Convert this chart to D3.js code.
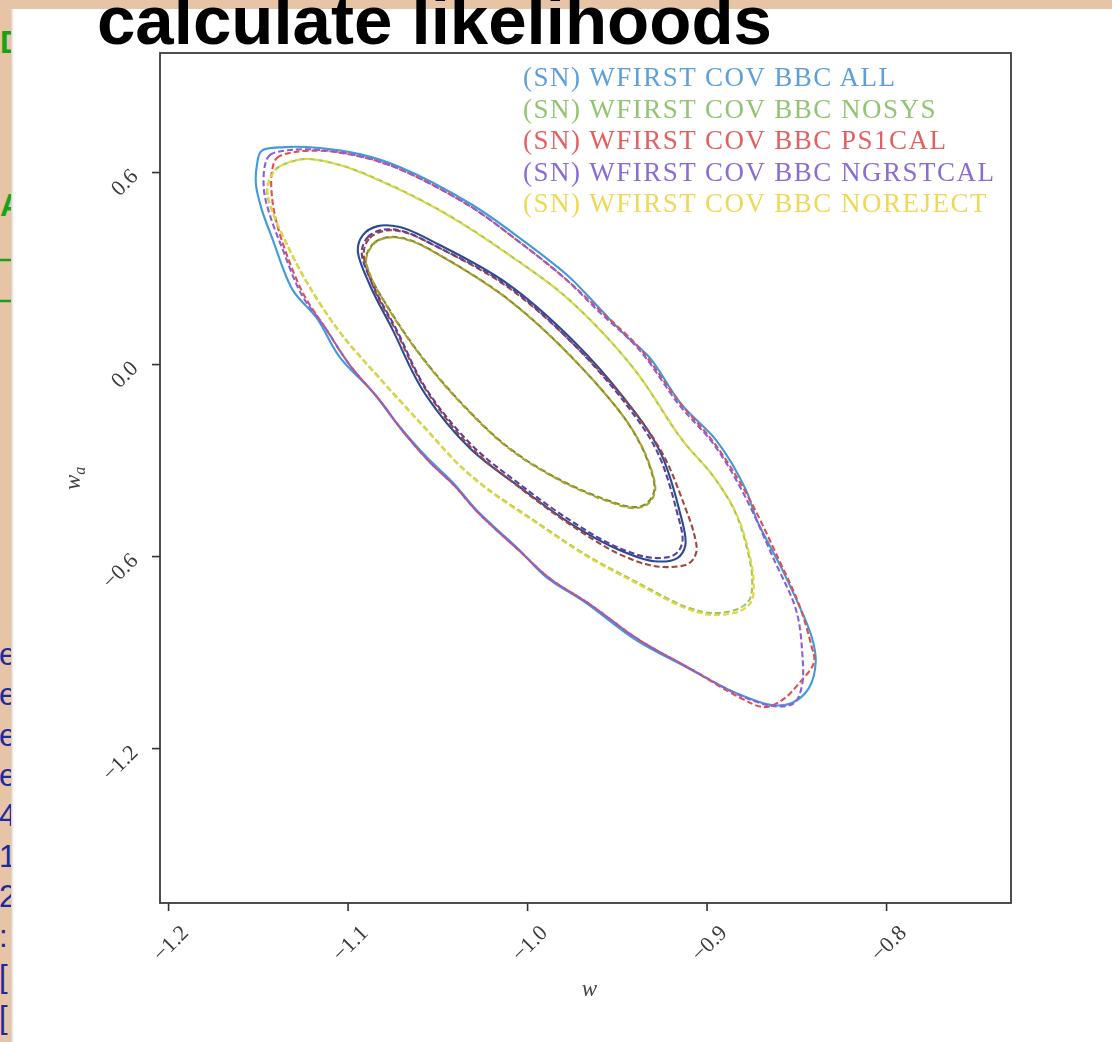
<!DOCTYPE html>
<html>
<head>
<meta charset="utf-8">
<script src="https://cdn.jsdelivr.net/npm/d3@7"></script>
<style>
  html, body { margin: 0; padding: 0; background: #fff; overflow: hidden; }
  svg { display: block; }
</style>
</head>
<body>
<svg id="chart" width="1112" height="1042"></svg>
<script>
// axis ticks and ranges (w on x, w_a on y)
const xTicks = [-1.2, -1.1, -1.0, -0.9, -0.8];
const yTicks = [0.6, 0.0, -0.6, -1.2];
const xDomain = [-1.2045, -0.7304];
const yDomain = [-1.684, 0.972];

const seriesNames = [
  "(SN) WFIRST COV BBC ALL",
  "(SN) WFIRST COV BBC NOSYS",
  "(SN) WFIRST COV BBC PS1CAL",
  "(SN) WFIRST COV BBC NGRSTCAL",
  "(SN) WFIRST COV BBC NOREJECT"
];

// contour points [w, w_a] (outer = 95%, inner = 68%)
const allOuter = [[-1.1505,0.622],[-1.148,0.666],[-1.135,0.678],[-1.1154,0.675],[-1.0933,0.656],[-1.071,0.616],[-1.0304,0.497],[-1.0026,0.3875],[-0.9765,0.272],[-0.9598,0.175],[-0.9448,0.0875],[-0.932,0.022],[-0.9137,-0.128],[-0.8947,-0.2375],[-0.878,-0.394],[-0.872,-0.4875],[-0.8558,-0.6656],[-0.8414,-0.853],[-0.8392,-0.931],[-0.843,-1.0125],[-0.8525,-1.059],[-0.8636,-1.0656],[-0.8836,-1.028],[-0.9114,-0.947],[-0.9392,-0.8625],[-0.967,-0.747],[-0.9893,-0.6656],[-1.0043,-0.581],[-1.0282,-0.456],[-1.0415,-0.369],[-1.056,-0.2906],[-1.0727,-0.184],[-1.086,-0.0875],[-1.1044,0.022],[-1.1172,0.144],[-1.1305,0.231],[-1.1416,0.3875],[-1.1477,0.481],[-1.151,0.559]];
const allInner = [[-1.0943,0.356],[-1.0915,0.403],[-1.0832,0.431],[-1.0709,0.428],[-1.0487,0.372],[-1.0114,0.253],[-0.9747,0.075],[-0.943,-0.128],[-0.9263,-0.269],[-0.9152,-0.456],[-0.9118,-0.566],[-0.9163,-0.606],[-0.9291,-0.616],[-0.9486,-0.581],[-0.9753,-0.500],[-1.0042,-0.384],[-1.032,-0.2625],[-1.0582,-0.081],[-1.0748,0.106],[-1.0876,0.247]];

const nosysOuter = [[-1.1449,0.544],[-1.1405,0.606],[-1.1321,0.631],[-1.1227,0.641],[-1.1043,0.622],[-1.086,0.584],[-1.0487,0.481],[-1.0114,0.347],[-0.9764,0.200],[-0.9413,-0.009],[-0.9135,-0.2375],[-0.8968,-0.347],[-0.8846,-0.456],[-0.8779,-0.566],[-0.8746,-0.669],[-0.8762,-0.7375],[-0.8829,-0.766],[-0.8968,-0.778],[-0.9113,-0.759],[-0.9391,-0.681],[-0.9669,-0.597],[-0.9947,-0.494],[-1.0225,-0.3875],[-1.0376,-0.316],[-1.0582,-0.191],[-1.0821,-0.044],[-1.1043,0.100],[-1.1227,0.256],[-1.1349,0.3875],[-1.1422,0.4813]];
const nosysInner = [[-1.0899,0.331],[-1.0848,0.381],[-1.0765,0.397],[-1.0654,0.3875],[-1.0487,0.3406],[-1.0114,0.206],[-0.9747,0.019],[-0.943,-0.191],[-0.9319,-0.316],[-0.9291,-0.394],[-0.933,-0.434],[-0.9402,-0.447],[-0.9569,-0.422],[-0.9836,-0.356],[-1.0114,-0.256],[-1.0392,-0.106],[-1.0615,0.044],[-1.0793,0.194],[-1.0876,0.278]];

const ps1calOuter = [[-1.1422,0.600],[-1.1394,0.644],[-1.1294,0.6625],[-1.1127,0.666],[-1.0921,0.647],[-1.0709,0.609],[-1.032,0.494],[-1.0042,0.381],[-0.9792,0.269],[-0.9597,0.169],[-0.9374,0.050],[-0.9152,-0.119],[-0.8957,-0.247],[-0.8774,-0.409],[-0.8596,-0.6125],[-0.8484,-0.753],[-0.8417,-0.878],[-0.8401,-0.931],[-0.8484,-0.997],[-0.8579,-1.050],[-0.8679,-1.072],[-0.8818,-1.041],[-0.9096,-0.950],[-0.9374,-0.8625],[-0.9652,-0.750],[-0.9875,-0.669],[-1.0042,-0.584],[-1.0276,-0.4625],[-1.0403,-0.381],[-1.0543,-0.306],[-1.0698,-0.206],[-1.0821,-0.1125],[-1.0988,-0.003],[-1.1127,0.1156],[-1.1243,0.2156],[-1.1338,0.3406],[-1.1399,0.450],[-1.1422,0.528]];
const ps1calInner = [[-1.091,0.350],[-1.0876,0.394],[-1.0798,0.416],[-1.0687,0.4125],[-1.0476,0.359],[-1.0109,0.241],[-0.9741,0.0625],[-0.9419,-0.1375],[-0.9241,-0.284],[-0.9124,-0.441],[-0.9068,-0.534],[-0.9057,-0.5875],[-0.9096,-0.622],[-0.9196,-0.634],[-0.9319,-0.628],[-0.9497,-0.591],[-0.9764,-0.500],[-1.0053,-0.381],[-1.032,-0.256],[-1.057,-0.075],[-1.0732,0.106],[-1.0854,0.2375]];

const ngrstcalOuter = [[-1.146,0.622],[-1.1433,0.653],[-1.1321,0.669],[-1.1154,0.669],[-1.0932,0.650],[-1.0709,0.609],[-1.032,0.494],[-1.0042,0.381],[-0.9792,0.269],[-0.9597,0.1625],[-0.9374,0.044],[-0.9152,-0.128],[-0.8957,-0.253],[-0.879,-0.409],[-0.8623,-0.6125],[-0.8501,-0.769],[-0.8468,-0.894],[-0.8468,-1.003],[-0.8512,-1.059],[-0.8623,-1.069],[-0.8818,-1.034],[-0.9096,-0.950],[-0.9374,-0.8625],[-0.9652,-0.750],[-0.9875,-0.669],[-1.0042,-0.584],[-1.0276,-0.4625],[-1.0403,-0.381],[-1.0543,-0.306],[-1.0698,-0.206],[-1.0821,-0.1125],[-1.0988,-0.003],[-1.1127,0.1156],[-1.1255,0.2156],[-1.136,0.356],[-1.1433,0.466],[-1.1466,0.544]];
const ngrstcalInner = [[-1.0921,0.350],[-1.0887,0.397],[-1.081,0.419],[-1.0698,0.416],[-1.0487,0.3625],[-1.0114,0.247],[-0.9753,0.069],[-0.9441,-0.131],[-0.9274,-0.275],[-0.9168,-0.456],[-0.9135,-0.556],[-0.9174,-0.594],[-0.9291,-0.606],[-0.9486,-0.575],[-0.9753,-0.491],[-1.0042,-0.375],[-1.0309,-0.253],[-1.0565,-0.075],[-1.0726,0.106],[-1.0854,0.241]];

const norejectOuter = [[-1.1446,0.546],[-1.1402,0.607],[-1.1318,0.632],[-1.1224,0.641],[-1.104,0.621],[-1.0857,0.582],[-1.0484,0.479],[-1.0111,0.345],[-0.9761,0.198],[-0.941,-0.011],[-0.9131,-0.240],[-0.8963,-0.350],[-0.8841,-0.459],[-0.8772,-0.570],[-0.8738,-0.674],[-0.8750,-0.742],[-0.8815,-0.772],[-0.8965,-0.784],[-0.9113,-0.764],[-0.9391,-0.685],[-0.9669,-0.600],[-0.9947,-0.497],[-1.0225,-0.390],[-1.0376,-0.318],[-1.0582,-0.193],[-1.0821,-0.046],[-1.1043,0.098],[-1.1227,0.254],[-1.1349,0.386],[-1.142,0.480]];
const norejectInner = [[-1.0896,0.330],[-1.0845,0.380],[-1.0762,0.396],[-1.0651,0.386],[-1.0484,0.339],[-1.0111,0.204],[-0.9744,0.017],[-0.9427,-0.193],[-0.9315,-0.318],[-0.9287,-0.397],[-0.9327,-0.437],[-0.9400,-0.450],[-0.9569,-0.425],[-0.9836,-0.358],[-1.0114,-0.258],[-1.0392,-0.108],[-1.0615,0.042],[-1.0793,0.192],[-1.0873,0.277]];

const outers = [allOuter, nosysOuter, ps1calOuter, ngrstcalOuter, norejectOuter];
const inners = [allInner, nosysInner, ps1calInner, ngrstcalInner, norejectInner];

// styles
const lineColors = ["#3f9bda", "#97c95f", "#e0504e", "#8b5fd9", "#e4d63a"];
const innerColors = ["#2a4c92", "#72902c", "#a4443c", "#5c3f9f", "#b0a02a"];
const legendColors = ["#5b9fdc", "#92c571", "#e45f5f", "#8a6cd4", "#eed856"];

// fragments of the slide behind the screenshot
const sideGreen = ["D", "A"];
const sideBlue = ["e", "e", "e", "e", "4", "1", "2", ":", "[", "["];

const svg = d3.select("#chart");
const W = 1112, H = 1042;
const M = { left: 160, right: 1011, top: 53, bottom: 903 };

const defs = svg.append("defs");
defs.append("filter").attr("id", "soft")
  .append("feGaussianBlur").attr("stdDeviation", 0.55);
const shade = defs.append("linearGradient").attr("id", "shade");
shade.append("stop").attr("offset", "0%").attr("stop-color", "#b0a090");
shade.append("stop").attr("offset", "100%").attr("stop-color", "#fff").attr("stop-opacity", 0);

// slide background
svg.append("rect").attr("width", W).attr("height", H).attr("fill", "#e7c4a6");

const side = svg.append("g").attr("font-family", "Liberation Sans, Arial, sans-serif");
side.selectAll("text.g").data(sideGreen).join("text")
  .attr("class", "g")
  .attr("x", 0).attr("y", (d, i) => [53, 216][i])
  .attr("font-size", 31).attr("font-weight", "bold")
  .attr("fill", "#17a317").text(d => d);
side.selectAll("line").data([260, 301]).join("line")
  .attr("x1", 0).attr("x2", 12).attr("y1", d => d).attr("y2", d => d)
  .attr("stroke", "#17a317").attr("stroke-width", 2.5);
side.selectAll("text.b").data(sideBlue).join("text")
  .attr("class", "b")
  .attr("x", -1).attr("y", (d, i) => 665 + i * 40.3)
  .attr("font-size", 31)
  .attr("fill", "#1b2a9c").text(d => d);

// white screenshot panel
svg.append("rect").attr("x", 11).attr("y", 9).attr("width", W).attr("height", H)
  .attr("fill", "#fff");
svg.append("rect").attr("x", 11).attr("y", 9).attr("width", 4).attr("height", H)
  .attr("fill", "url(#shade)").attr("opacity", 0.6);

// slide title
svg.append("text")
  .attr("x", 97).attr("y", 44)
  .attr("font-family", "Liberation Sans, Arial, sans-serif")
  .attr("font-weight", "bold").attr("font-size", 69)
  .attr("fill", "#000")
  .text("calculate likelihoods");

// ---- the plot ----
const x = d3.scaleLinear().domain(xDomain).range([M.left, M.right]);
const y = d3.scaleLinear().domain(yDomain).range([M.bottom, M.top]);
const fmt = d => d.toFixed(1).replace("-", "\u2212");

const plot = svg.append("g").attr("filter", "url(#soft)");

const line = d3.line()
  .x(d => x(d[0])).y(d => y(d[1]))
  .curve(d3.curveCatmullRomClosed.alpha(0.5));

const series = seriesNames.map((name, i) => ({
  name, outer: outers[i], inner: inners[i],
  color: lineColors[i], innerColor: innerColors[i],
  dashed: i > 0, offset: i === 4 ? 4.5 : 0
}));

const sg = plot.append("g").selectAll("g").data(series).join("g");
sg.append("path")
  .attr("d", d => line(d.outer))
  .attr("fill", "none").attr("stroke", d => d.color)
  .attr("stroke-width", 2.1)
  .attr("stroke-dasharray", d => d.dashed ? "6,3" : null)
  .attr("stroke-dashoffset", d => d.offset);
sg.append("path")
  .attr("d", d => line(d.inner))
  .attr("fill", "none").attr("stroke", d => d.innerColor)
  .attr("stroke-width", 2.1)
  .attr("stroke-dasharray", d => d.dashed ? "6,3" : null)
  .attr("stroke-dashoffset", d => d.offset);

// axes
const xAxis = plot.append("g")
  .attr("transform", `translate(0,${M.bottom})`)
  .call(d3.axisBottom(x).tickValues(xTicks).tickSize(8).tickFormat(fmt));
const yAxis = plot.append("g")
  .attr("transform", `translate(${M.left},0)`)
  .call(d3.axisLeft(y).tickValues(yTicks).tickSize(8).tickFormat(fmt));

[xAxis, yAxis].forEach(a => {
  a.select(".domain").remove();
  a.selectAll(".tick line").attr("stroke", "#333").attr("stroke-width", 1.6);
  a.selectAll(".tick text")
    .attr("font-family", "Liberation Serif, Times New Roman, serif")
    .attr("font-size", 22).attr("fill", "#3a3a3a")
    .attr("text-anchor", "end")
    .attr("x", 0).attr("y", 0).attr("dy", 0);
});
xAxis.selectAll(".tick text").attr("transform", "translate(21,31) rotate(-45)");
yAxis.selectAll(".tick text").attr("transform", "translate(-21,5) rotate(-45)");

// frame
plot.append("rect")
  .attr("x", M.left).attr("y", M.top)
  .attr("width", M.right - M.left).attr("height", M.bottom - M.top)
  .attr("fill", "none").attr("stroke", "#3a3a3a").attr("stroke-width", 1.8);

// axis labels
plot.append("text")
  .attr("x", (M.left + M.right) / 2 + 4).attr("y", 996)
  .attr("text-anchor", "middle")
  .attr("font-family", "Liberation Serif, Times New Roman, serif")
  .attr("font-style", "italic").attr("font-size", 23).attr("fill", "#444")
  .text("w");
const yl = plot.append("text")
  .attr("transform", "translate(80,490) rotate(-90)")
  .attr("font-family", "Liberation Serif, Times New Roman, serif")
  .attr("font-style", "italic").attr("font-size", 23).attr("fill", "#444");
yl.append("tspan").text("w");
yl.append("tspan").attr("dy", 5).attr("font-size", 16).text("a");

// legend (coloured text only)
plot.append("g").selectAll("text").data(series).join("text")
  .attr("x", 523).attr("y", (d, i) => 86 + i * 31.6)
  .attr("font-family", "Liberation Serif, Times New Roman, serif")
  .attr("font-size", 27).attr("letter-spacing", 1.5)
  .attr("fill", (d, i) => legendColors[i])
  .text(d => d.name);
</script>
</body>
</html>
